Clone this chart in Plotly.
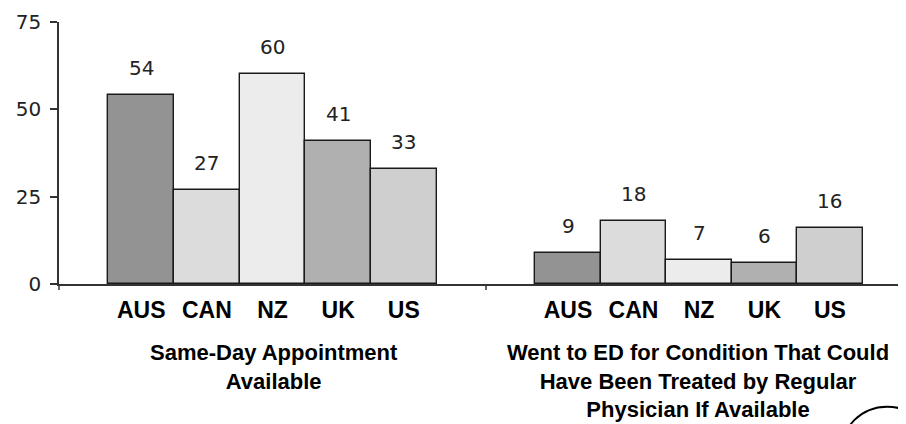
import plotly.graph_objects as go

countries = ["AUS", "CAN", "NZ", "UK", "US"]
same_day = [54, 27, 60, 41, 33]
went_ed = [9, 18, 7, 6, 16]
bar_colors = ["#939393", "#dcdcdc", "#ececec", "#b0b0b0", "#cfcfcf"]
group_titles = [
    ["Same-Day Appointment", "Available"],
    ["Went to ED for Condition That Could", "Have Been Treated by Regular", "Physician If Available"],
]
y_ticks = [0, 25, 50, 75]

W, H = 906, 424
ML, MR, MT, MB = 51, 2, 9, 148
plot_w = W - ML - MR
plot_h = H - MT - MB
split = (478 - ML) / plot_w

fig = go.Figure()
for vals, xa in [(same_day, "x"), (went_ed, "x2")]:
    fig.add_trace(go.Bar(
        x=countries, y=vals, xaxis=xa, yaxis="y",
        marker=dict(color=bar_colors, line=dict(color="#1a1a1a", width=1.4)),
        showlegend=False, hoverinfo="x+y",
    ))
    for c, v in zip(countries, vals):
        fig.add_annotation(
            x=c, y=v, xref=xa, yref="y", text=str(v), showarrow=False,
            yanchor="middle", yshift=27,
            font=dict(family="DejaVu Sans", size=20, color="#222222"),
        )

axis_common = dict(
    type="category", showline=True, linecolor="#333333", linewidth=1.5,
    ticks="", showgrid=False, zeroline=False,
    tickfont=dict(family="Liberation Sans, Arial", size=23, color="#000000", weight="bold"),
    ticklabelstandoff=5,
)
fig.update_layout(
    width=W, height=H,
    margin=dict(l=ML, r=MR, t=MT, b=MB, pad=0),
    paper_bgcolor="white", plot_bgcolor="white",
    bargap=0,
    xaxis=dict(domain=[0, split], range=[-1.253, 5.253], anchor="y", **axis_common),
    xaxis2=dict(domain=[split, 1], range=[-1.253, 5.253], anchor="y", **axis_common),
    yaxis=dict(
        range=[0, 75], tickvals=y_ticks, ticks="outside", ticklen=7,
        tickcolor="#333333", tickwidth=1.5, showline=True, linecolor="#333333",
        linewidth=1.5, showgrid=False, zeroline=False,
        tickfont=dict(family="DejaVu Sans", size=20, color="#222222"),
        ticklabelstandoff=5, ticklabeloverflow="allow",
    ),
)

# group boundary ticks
for xb in [0, split]:
    fig.add_shape(type="line", xref="paper", yref="paper", x0=xb, x1=xb,
                  y0=0, y1=-6 / plot_h, line=dict(color="#333333", width=1.5))

# group titles (one block each, first line centred at y=346 px)
centers = [(266 - ML) / plot_w, (690 - ML) / plot_w]
line_gap = 28.6
for cx, lines in zip(centers, group_titles):
    py = 346.5 + line_gap * (len(lines) - 1) / 2
    fig.add_annotation(
        x=cx, y=(H - MB - py) / plot_h, xref="paper", yref="paper",
        text="<br>".join(lines), showarrow=False, xanchor="center", yanchor="middle",
        align="center",
        font=dict(family="Liberation Sans, Arial", size=22, color="#000000", weight="bold"),
    )

# partial logo circle at bottom right
cx_px, cy_px, r_px = 879, 447, 46
fig.add_shape(type="circle", xref="paper", yref="paper",
              x0=(cx_px - r_px - ML) / plot_w, x1=(cx_px + r_px - ML) / plot_w,
              y0=(H - MB - (cy_px + r_px)) / plot_h, y1=(H - MB - (cy_px - r_px)) / plot_h,
              line=dict(color="#000000", width=2))

fig.write_html("out.html")
